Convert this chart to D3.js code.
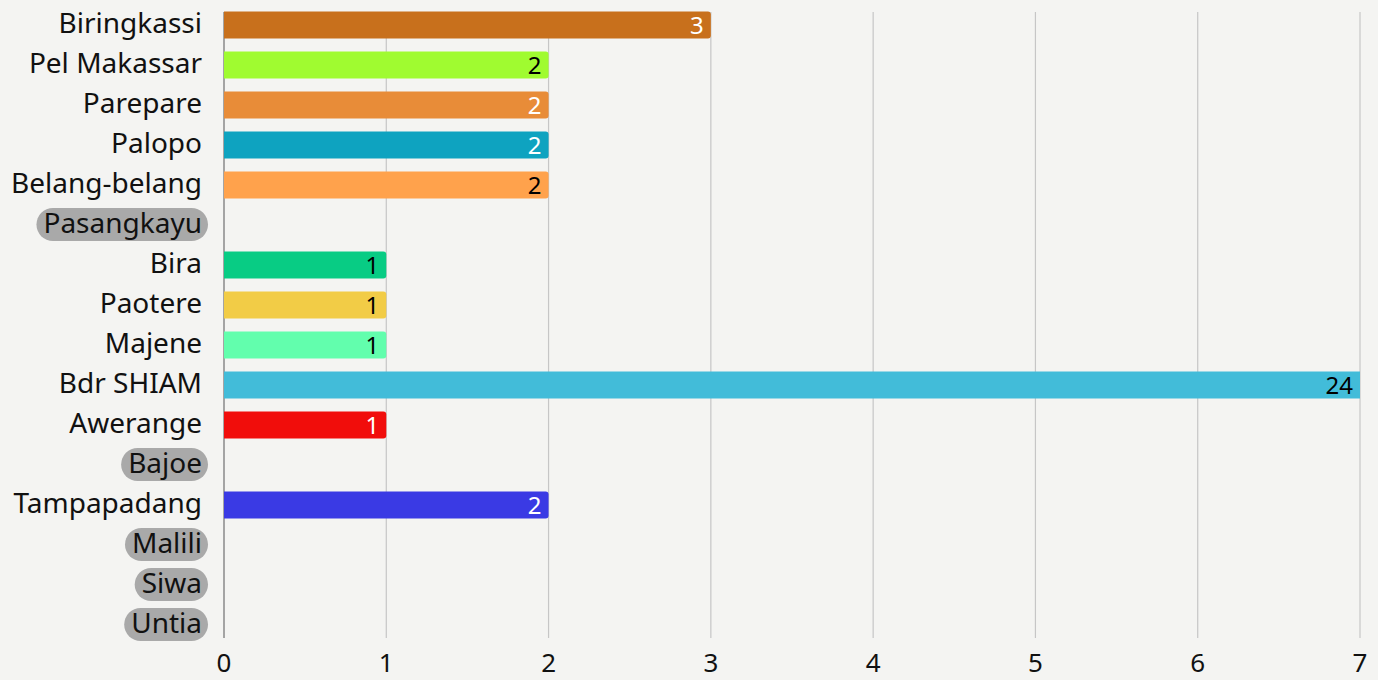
<!DOCTYPE html>
<html>
<head>
<meta charset="utf-8">
<script src="https://cdn.jsdelivr.net/npm/d3@7"></script>
<style>
  html, body { margin: 0; padding: 0; background: #f4f4f2; }
  svg { display: block; }
</style>
</head>
<body>
<div id="chart"></div>
<script>
// data
var categories = ["Biringkassi", "Pel Makassar", "Parepare", "Palopo", "Belang-belang", "Pasangkayu",
  "Bira", "Paotere", "Majene", "Bdr SHIAM", "Awerange", "Bajoe", "Tampapadang", "Malili", "Siwa", "Untia"];
var values = [3, 2, 2, 2, 2, 0, 1, 1, 1, 24, 1, 0, 2, 0, 0, 0];
var barColors = ["#c8701c", "#a0fb30", "#e88c38", "#0ea3c0", "#ffa24c", "#aaaaaa",
  "#08cc84", "#f2cc46", "#62fead", "#42bcd9", "#f10d0b", "#aaaaaa", "#3a3ae4", "#aaaaaa", "#aaaaaa", "#aaaaaa"];
var labelColors = ["#fff", "#000", "#fff", "#fff", "#000", "#000",
  "#000", "#000", "#000", "#000", "#fff", "#000", "#fff", "#000", "#000", "#000"];
var xTicks = [0, 1, 2, 3, 4, 5, 6, 7];

var width = 1378, height = 680;
var font = "'Noto Sans', sans-serif";

var svg = d3.select("#chart").append("svg")
  .attr("width", width)
  .attr("height", height);

var x = d3.scaleLinear().domain([0, 7]).range([224, 1360]);
var y = d3.scaleBand().domain(categories).range([5, 645]).paddingInner(0.325).paddingOuter(0.1625);

var rows = categories.map(function(c, i){ return {name: c, value: values[i], color: barColors[i], lab: labelColors[i]}; });

// grid lines
svg.append("g").selectAll("line")
  .data(xTicks)
  .join("line")
  .attr("x1", function(d){ return x(d); })
  .attr("x2", function(d){ return x(d); })
  .attr("y1", 12)
  .attr("y2", 638)
  .attr("stroke", function(d){ return d === 0 ? "#8a8a8a" : "#c6c6c6"; })
  .attr("stroke-width", function(d){ return d === 0 ? 1.5 : 1.2; });

// tick labels
svg.append("g").selectAll("text")
  .data(xTicks)
  .join("text")
  .attr("x", function(d){ return x(d); })
  .attr("y", 672)
  .attr("text-anchor", "middle")
  .attr("font-family", font)
  .attr("font-size", "26px")
  .attr("fill", "#111")
  .text(function(d){ return d; });

// bars, clipped to the plot
svg.append("clipPath").attr("id", "plotclip")
  .append("rect").attr("x", x(0)).attr("y", 0).attr("width", x(7) - x(0)).attr("height", height);

var bars = svg.append("g").attr("clip-path", "url(#plotclip)");
var withVal = rows.filter(function(d){ return d.value > 0; });

bars.selectAll("path")
  .data(withVal)
  .join("path")
  .attr("fill", function(d){ return d.color; })
  .attr("d", function(d){
    var x0 = x(0), x1 = x(d.value), y0 = y(d.name), h = y.bandwidth(), r = 3;
    return "M" + x0 + "," + y0 + "H" + (x1 - r) + "Q" + x1 + "," + y0 + " " + x1 + "," + (y0 + r)
      + "V" + (y0 + h - r) + "Q" + x1 + "," + (y0 + h) + " " + (x1 - r) + "," + (y0 + h) + "H" + x0 + "Z";
  });

// value labels
svg.append("g").selectAll("text")
  .data(withVal)
  .join("text")
  .attr("x", function(d){ return Math.min(x(d.value), x(7)) - 7; })
  .attr("y", function(d){ return y(d.name) + y.bandwidth() / 2 + 9; })
  .attr("text-anchor", "end")
  .attr("font-family", font)
  .attr("font-size", "24px")
  .attr("fill", function(d){ return d.lab; })
  .text(function(d){ return d.value; });

// category labels; empty rows get a grey pill
var labs = svg.append("g").selectAll("g")
  .data(rows)
  .join("g")
  .attr("transform", function(d){ return "translate(202," + (y(d.name) + y.bandwidth() / 2) + ")"; });

labs.append("text")
  .attr("text-anchor", "end")
  .attr("y", 8)
  .attr("font-family", font)
  .attr("font-size", "28px")
  .attr("fill", "#111")
  .text(function(d){ return d.name; });

labs.filter(function(d){ return d.value === 0; }).each(function(){
  var g = d3.select(this);
  var bb = g.select("text").node().getBBox();
  g.insert("rect", "text")
    .attr("x", bb.x - 7)
    .attr("y", -17)
    .attr("width", bb.width + 13)
    .attr("height", 33)
    .attr("rx", 16.5)
    .attr("fill", "#a9a9a9");
});
</script>
</body>
</html>
